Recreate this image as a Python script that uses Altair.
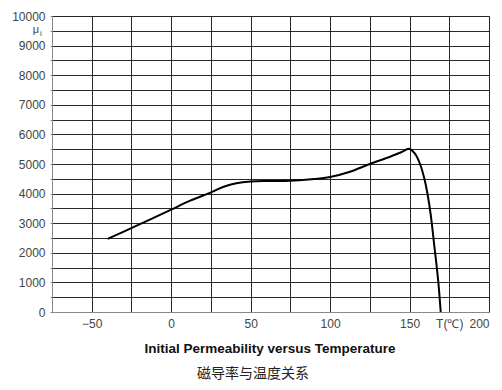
import altair as alt
import pandas as pd

temps = [-40, -20, 0, 12, 25, 33, 41, 50, 62, 75, 90, 100, 112, 125, 137, 144, 150, 153.5, 156.6, 159.1, 161.2, 163.3, 165.6, 168.1, 169.6]
perm = [2470, 2960, 3460, 3760, 4040, 4230, 4350, 4410, 4425, 4435, 4490, 4560, 4730, 5000, 5230, 5380, 5510, 5340, 5000, 4550, 4020, 3300, 2230, 1020, 0]

x_ticks = [-75, -50, -25, 0, 25, 50, 75, 100, 125, 150, 175, 200]
y_ticks = list(range(0, 10001, 500))

df = pd.DataFrame({"T": temps, "mu": perm})

W, H = 437, 296

x_enc = alt.X("T:Q", scale=alt.Scale(domain=[-75, 200], nice=False, zero=False),
              axis=alt.Axis(values=x_ticks, title=None, grid=True, gridColor="#111", gridOpacity=0.9,
                            labelExpr="datum.value == 175 ? 'T(℃)' : (datum.value % 50 == 0 && datum.value > -75 ? datum.label : '')",
                            labelFont="Liberation Sans", labelFontSize=12, labelColor="#444",
                            tickSize=0, labelPadding=6, domainColor="#888", labelFlush=True))
y_enc = alt.Y("mu:Q", scale=alt.Scale(domain=[0, 10000], nice=False),
              axis=alt.Axis(values=y_ticks, title=None, grid=True, gridColor="#111", gridOpacity=0.9,
                            labelExpr="datum.value % 1000 == 0 ? datum.value : ''",
                            labelFont="Liberation Sans", labelFontSize=12, labelColor="#444",
                            tickSize=2, tickColor="#888", labelPadding=5, domainColor="#888"))

line = alt.Chart(df).mark_line(color="black", strokeWidth=2, interpolate="catmull-rom").encode(x=x_enc, y=y_enc)

title_en = alt.Chart(pd.DataFrame({"t": ["Initial Permeability versus Temperature"]})).mark_text(
    font="Liberation Sans", fontWeight="bold", fontSize=13.5, color="#111", align="center", baseline="middle"
).encode(text="t:N", x=alt.value(218), y=alt.value(333))

title_zh = alt.Chart(pd.DataFrame({"t": ["磁导率与温度关系"]})).mark_text(
    font="Noto Sans CJK SC", fontSize=14, color="#222", align="center", baseline="middle"
).encode(text="t:N", x=alt.value(201), y=alt.value(358))

mu_lbl = alt.Chart(pd.DataFrame({"t": ["μ"]})).mark_text(
    font="Liberation Sans", fontSize=11, color="#444", align="center", baseline="middle"
).encode(text="t:N", x=alt.value(-16), y=alt.value(14))

mu_sub = alt.Chart(pd.DataFrame({"t": ["i"]})).mark_text(
    font="Liberation Sans", fontSize=8, color="#444", align="center", baseline="middle"
).encode(text="t:N", x=alt.value(-11), y=alt.value(18))

chart = alt.layer(line, title_en, title_zh, mu_lbl, mu_sub).properties(
    width=W, height=H,
    autosize=alt.AutoSizeParams(type="none"),
    padding={"left": 44, "top": 8, "right": 5, "bottom": 70},
).configure_view(stroke="#888", strokeWidth=1).configure(background="white")

chart.save("out.html", embed_options={"renderer": "svg", "actions": False})
